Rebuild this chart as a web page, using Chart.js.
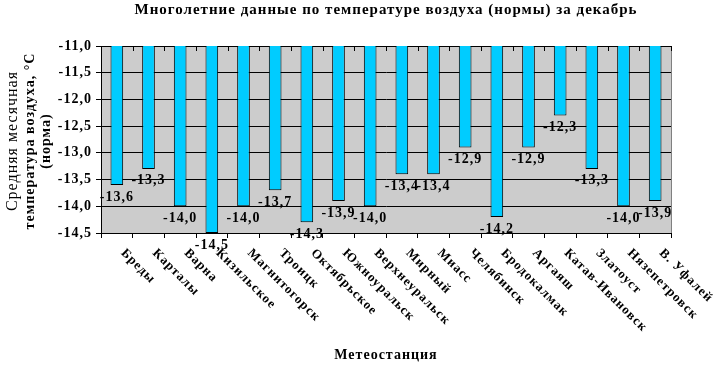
<!DOCTYPE html>
<html lang="ru">
<head>
  <meta charset="UTF-8">
  <title>Температура воздуха за декабрь</title>
  <script src="https://cdn.jsdelivr.net/npm/chart.js"></script>
  <style>
    html, body { margin:0; padding:0; background:#fff; }
    #wrap { width:718px; height:366px; }
  </style>
</head>
<body>
  <div id="wrap"><canvas id="tempChart" width="718" height="366"></canvas></div>

  <script>
    const stations = ['Бреды','Карталы','Варна','Кизильское','Магнитогорск','Троицк','Октябрьское','Южноуральск','Верхнеуральск','Мирный','Миасс','Челябинск','Бродокалмак','Аргаяш','Катав-Ивановск','Златоуст','Нязепетровск','В. Уфалей'];
    const temps = [-13.6,-13.3,-14.0,-14.5,-14.0,-13.7,-14.3,-13.9,-14.0,-13.4,-13.4,-12.9,-14.2,-12.9,-12.3,-13.3,-14.0,-13.9];
    const yMin = -14.5, yMax = -11.0, yStep = 0.5;

    const titleText = 'Многолетние данные по температуре воздуха (нормы) за декабрь';
    const yTitle = ['Средняя месячная', 'температура воздуха, °С', '(норма)'];
    const xTitle = 'Метеостанция';
    const serif = '"Liberation Serif", "Times New Roman", serif';
    const fmt = v => v.toFixed(1).replace('.', ',');

    // фон, подписи, засечки сверху — всё что Chart.js не рисует сам
    const extras = {
      id: 'extras',
      beforeDraw(chart) {
        const { ctx, chartArea: a } = chart;
        ctx.letterSpacing = '1px';   // в оригинале текст разрежен
        ctx.save();
        ctx.fillStyle = '#cccccc';
        ctx.fillRect(a.left, a.top, a.right - a.left, a.bottom - a.top);
        ctx.strokeStyle = '#808080';
        ctx.lineWidth = 1;
        ctx.beginPath();
        ctx.moveTo(a.right + 0.5, a.top);
        ctx.lineTo(a.right + 0.5, a.bottom);
        ctx.stroke();
        ctx.restore();
      },
      afterDraw(chart) {
        const { ctx, chartArea: a } = chart;
        const x = chart.scales.x;
        ctx.save();
        ctx.letterSpacing = '1px';
        // засечки на верхней оси
        ctx.strokeStyle = '#000';
        ctx.lineWidth = 1;
        ctx.beginPath();
        for (let i = 0; i <= stations.length; i++) {
          const px = Math.round(a.left + (a.right - a.left) * i / stations.length) + 0.5;
          ctx.moveTo(px, a.top);
          ctx.lineTo(px, a.top + 5);
        }
        ctx.stroke();

        // значения под столбиками
        ctx.fillStyle = '#000';
        ctx.font = 'bold 14px ' + serif;
        ctx.textAlign = 'center';
        ctx.textBaseline = 'middle';
        chart.getDatasetMeta(0).data.forEach((bar, i) => {
          ctx.fillText(fmt(temps[i]), bar.x, bar.y + 12);
        });

        // подписи станций, наклон вниз вправо
        ctx.textAlign = 'left';
        ctx.font = 'bold 13px ' + serif;
        stations.forEach((s, i) => {
          const px = x.getPixelForValue(i);
          ctx.save();
          ctx.translate(px + 6, a.bottom + 18);
          ctx.rotate(Math.PI / 4);
          ctx.fillText(s, 0, 0);
          ctx.restore();
        });

        // заголовок
        ctx.textAlign = 'center';
        ctx.font = 'bold 15px ' + serif;
        ctx.fillText(titleText, (a.left + a.right) / 2, 10);

        // подпись оси X
        ctx.font = 'bold 14px ' + serif;
        ctx.fillText(xTitle, (a.left + a.right) / 2, 355);

        // подпись оси Y
        ctx.save();
        ctx.translate(30, 141);
        ctx.rotate(-Math.PI / 2);
        ctx.font = '16px ' + serif;
        ctx.fillText(yTitle[0], 0, -17);
        ctx.font = 'bold 14px ' + serif;
        ctx.fillText(yTitle[1], 0, 0);
        ctx.fillText(yTitle[2], 0, 16);
        ctx.restore();
        ctx.restore();
      }
    };

    new Chart(document.getElementById('tempChart'), {
      type: 'bar',
      data: {
        labels: stations,
        datasets: [{
          data: temps,
          backgroundColor: '#00ccff',
          borderColor: '#000',
          borderWidth: 1,
          barPercentage: 0.4,
          categoryPercentage: 1
        }]
      },
      options: {
        responsive: false,
        animation: false,
        layout: { padding: { top: 46, right: 47, bottom: 0, left: 0 } },
        plugins: { legend: { display: false }, title: { display: false }, tooltip: { enabled: false } },
        scales: {
          x: {
            grid: { drawOnChartArea: false, color: '#000', tickLength: 5, offset: true },
            border: { color: '#000' },
            ticks: { display: false },
            afterFit: s => { s.height = 133; }
          },
          y: {
            min: yMin, max: yMax,
            grid: { color: '#000', tickLength: 5 },
            border: { color: '#000' },
            ticks: {
              stepSize: yStep,
              color: '#000',
              padding: 4,
              font: { family: serif, size: 14, weight: 'bold' },
              callback: v => fmt(v)
            },
            afterFit: s => { s.width = 101; }
          }
        }
      },
      plugins: [extras]
    });
  </script>
</body>
</html>
